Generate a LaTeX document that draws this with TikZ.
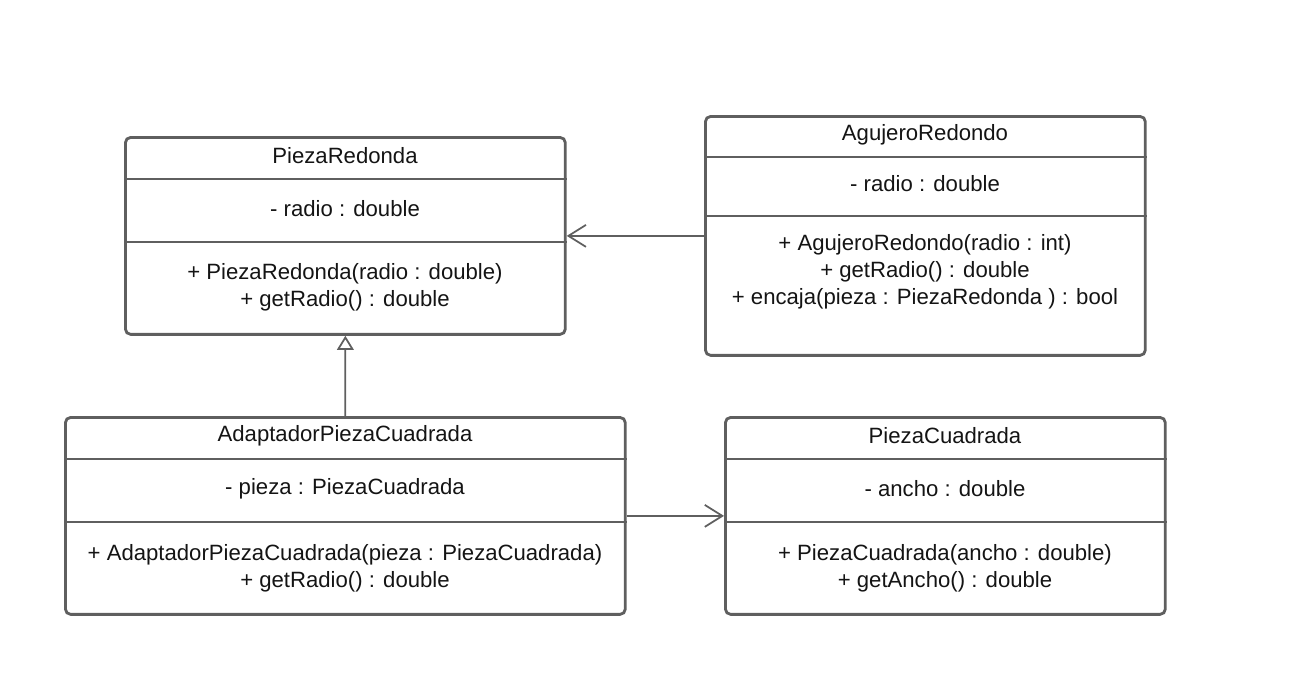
\documentclass[tikz,border=0pt]{standalone}
\usepackage{fontspec}
\setmainfont{Liberation Sans}
\usetikzlibrary{arrows.meta,calc,positioning}
\definecolor{umlgray}{RGB}{95,95,95}
\definecolor{umltext}{RGB}{20,20,20}

\begin{document}
\begin{tikzpicture}[x=0.02cm, y=-0.02cm,
    classbox/.style={draw=umlgray, line width=1.6pt, rounded corners=3pt, anchor=north west, inner sep=0pt},
    divider/.style={draw=umlgray, line width=1.6pt},
    txt/.style={text=umltext, font=\fontsize{12.6}{15.4}\selectfont, align=center, inner sep=0pt},
    assoc/.style={draw=umlgray, line width=1pt, -{Straight Barb[length=10pt, width=12.5pt]}},
    inherit/.style={draw=umlgray, line width=1pt, -{Triangle[open, length=8pt, width=9.5pt, line width=1pt]}}
]
\useasboundingbox (0,0) rectangle (1300,697);

% PiezaRedonda
\node[classbox, minimum width=8.8cm, minimum height=3.94cm] (pr) at (124,136) {};
\draw[divider] ($(pr.north west)+(0,43)$) -- ($(pr.north east)+(0,43)$);
\draw[divider] ($(pr.north west)+(0,106)$) -- ($(pr.north east)+(0,106)$);
\node[txt] (prname) at (345,156) {PiezaRedonda};
\node[txt] (prattr) at (345,209) {- radio : double};
\node[txt] (props) at (345,287) {+ PiezaRedonda(radio : double)\\+ getRadio() : double};

% AgujeroRedondo
\node[classbox, minimum width=8.8cm, minimum height=4.78cm] (ar) at (704,115) {};
\draw[divider] ($(ar.north west)+(0,42)$) -- ($(ar.north east)+(0,42)$);
\draw[divider] ($(ar.north west)+(0,101)$) -- ($(ar.north east)+(0,101)$);
\node[txt] (arname) at (925,135) {AgujeroRedondo};
\node[txt] (arattr) at (925,184) {- radio : double};
\node[txt] (arops) at (925,272) {+ AgujeroRedondo(radio : int)\\+ getRadio() : double\\+ encaja(pieza : PiezaRedonda ) : bool};

% AdaptadorPiezaCuadrada
\node[classbox, minimum width=11.2cm, minimum height=3.94cm] (ad) at (64,416) {};
\draw[divider] ($(ad.north west)+(0,43)$) -- ($(ad.north east)+(0,43)$);
\draw[divider] ($(ad.north west)+(0,106)$) -- ($(ad.north east)+(0,106)$);
\node[txt] (adname) at (345,436) {AdaptadorPiezaCuadrada};
\node[txt] (adattr) at (345,489) {- pieza : PiezaCuadrada};
\node[txt] (adops) at (345,568) {+ AdaptadorPiezaCuadrada(pieza : PiezaCuadrada)\\+ getRadio() : double};

% PiezaCuadrada
\node[classbox, minimum width=8.8cm, minimum height=3.94cm] (pc) at (724,416) {};
\draw[divider] ($(pc.north west)+(0,43)$) -- ($(pc.north east)+(0,43)$);
\draw[divider] ($(pc.north west)+(0,106)$) -- ($(pc.north east)+(0,106)$);
\node[txt] (pcname) at (945,436) {PiezaCuadrada};
\node[txt] (pcattr) at (945,489) {- ancho : double};
\node[txt] (pcops) at (945,568) {+ PiezaCuadrada(ancho : double)\\+ getAncho() : double};

% Relations
\draw[assoc] (ar.west) -- (pr.east);
\draw[inherit] (ad.north) -- (pr.south);
\draw[assoc] (ad.east) -- (pc.west);

\end{tikzpicture}
\end{document}
